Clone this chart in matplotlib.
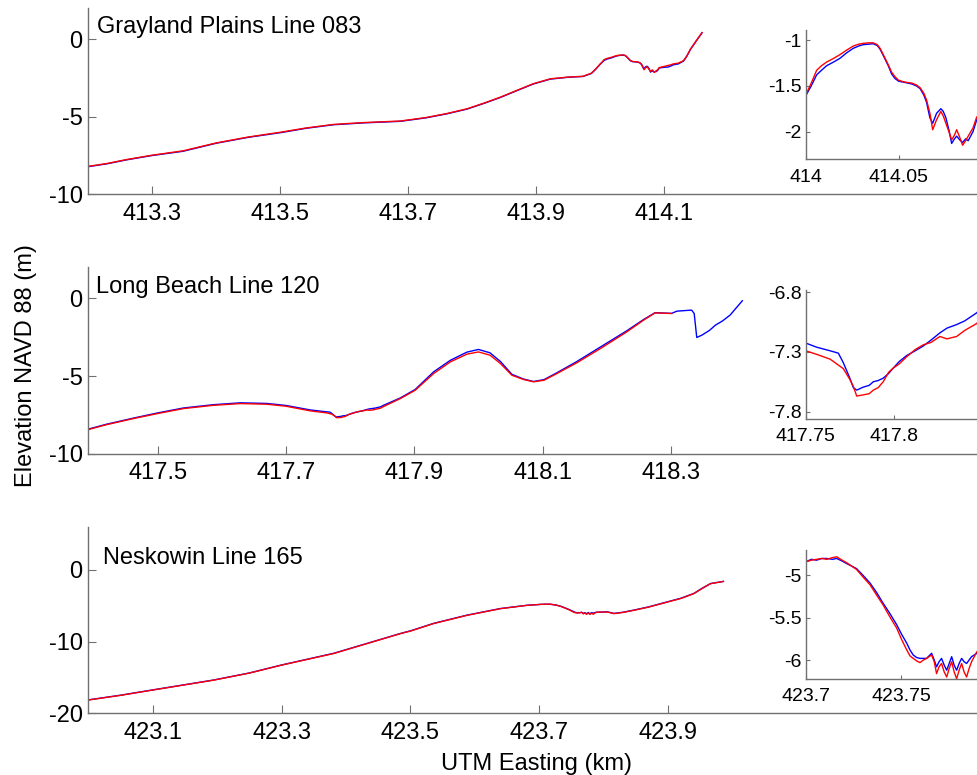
import matplotlib
matplotlib.use("Agg")
import matplotlib.pyplot as plt
from matplotlib.ticker import FuncFormatter

plt.rcParams["font.family"] = ["Liberation Sans", "DejaVu Sans"]
plt.rcParams["axes.unicode_minus"] = False

# ---------------- Grayland Plains Line 083 ----------------
gray_km = [413.200, 413.230, 413.260, 413.300, 413.348, 413.400, 413.450, 413.502,
           413.540, 413.583, 413.630, 413.6875, 413.727, 413.760, 413.792, 413.820,
           413.844, 413.870, 413.895, 413.922, 413.950, 413.973, 413.986, 413.993,
           414.0000, 414.0030, 414.0059, 414.0085, 414.0113, 414.0150, 414.0184,
           414.0220, 414.0256, 414.0285, 414.0310, 414.0340, 414.0363, 414.0385,
           414.0400, 414.0420, 414.0444, 414.0462, 414.0480, 414.0500, 414.0525,
           414.0550, 414.0570, 414.0595, 414.0615, 414.0635, 414.0650, 414.0668,
           414.0683, 414.0704, 414.0727, 414.0740, 414.0754, 414.0770, 414.0785,
           414.0800, 414.0812, 414.0828, 414.0844, 414.0860, 414.0874, 414.0900,
           414.0920, 414.0940, 414.1000, 414.1060, 414.1100, 414.1140, 414.1220,
           414.1300, 414.1350, 414.1410, 414.1500, 414.1590]
gray_red = [-8.20, -8.01, -7.76, -7.48, -7.20, -6.69, -6.31, -5.99,
            -5.73, -5.50, -5.38, -5.28, -5.06, -4.80, -4.49, -4.10,
            -3.74, -3.30, -2.88, -2.56, -2.45, -2.40, -2.20, -1.92,
            -1.60, -1.47, -1.33, -1.28, -1.24, -1.20, -1.16,
            -1.11, -1.065, -1.045, -1.036, -1.03, -1.03, -1.05,
            -1.09, -1.17, -1.27, -1.35, -1.40, -1.44, -1.455,
            -1.465, -1.47, -1.49, -1.52, -1.58, -1.655, -1.80,
            -1.98, -1.87, -1.78, -1.83, -1.91, -2.00, -2.09,
            -2.04, -1.98, -2.06, -2.15, -2.10, -2.05, -1.96,
            -1.84, -1.82, -1.76, -1.70, -1.66, -1.60, -1.55,
            -1.39, -1.10, -0.64, -0.10, 0.42]
gray_blue = [-8.22, -8.03, -7.78, -7.50, -7.23, -6.71, -6.33, -6.02,
             -5.75, -5.52, -5.40, -5.30, -5.08, -4.82, -4.51, -4.12,
             -3.76, -3.32, -2.90, -2.58, -2.46, -2.41, -2.22, -1.94,
             -1.61, -1.50, -1.38, -1.33, -1.28, -1.24, -1.20,
             -1.14, -1.09, -1.065, -1.05, -1.045, -1.04, -1.06,
             -1.10, -1.18, -1.28, -1.37, -1.42, -1.45, -1.46,
             -1.47, -1.48, -1.50, -1.53, -1.60, -1.68, -1.85,
             -1.91, -1.80, -1.75, -1.78, -1.85, -1.98, -2.13,
             -2.08, -2.05, -2.09, -2.12, -2.08, -2.10, -2.00,
             -1.87, -1.85, -1.82, -1.80, -1.74, -1.66, -1.60,
             -1.42, -1.12, -0.66, -0.12, 0.40]

# ---------------- Long Beach Line 120 ----------------
long_km = [417.392, 417.420, 417.4626, 417.500, 417.5405, 417.587, 417.629, 417.670,
           417.700, 417.738, 417.7500, 417.7562, 417.7638, 417.7685, 417.7713,
           417.7750, 417.7770, 417.7789, 417.7826, 417.7860, 417.7883, 417.7910,
           417.7939, 417.7970, 417.7996, 417.8030, 417.8072, 417.8120, 417.8166,
           417.8210, 417.8260, 417.8300, 417.8355, 417.8400, 417.8470, 417.852,
           417.878, 417.9014, 417.930, 417.956, 417.982, 418.000, 418.018, 418.034,
           418.052, 418.070, 418.0857, 418.102, 418.122, 418.153, 418.190, 418.231,
           418.257, 418.275, 418.301]
long_red = [-8.43, -8.12, -7.72, -7.40, -7.08, -6.87, -6.76, -6.80,
            -6.93, -7.23, -7.29, -7.32, -7.36, -7.41, -7.44,
            -7.53, -7.59, -7.67, -7.66, -7.65, -7.62, -7.60,
            -7.55, -7.47, -7.435, -7.40, -7.34, -7.28, -7.24,
            -7.22, -7.17, -7.19, -7.17, -7.12, -7.06, -6.95,
            -6.44, -5.90, -4.83, -4.08, -3.58, -3.44, -3.65, -4.18,
            -4.94, -5.21, -5.36, -5.26, -4.83, -4.14, -3.22, -2.15,
            -1.40, -0.93, -0.97]
long_blue_km = long_km + [418.309, 418.332, 418.336, 418.340, 418.348, 418.360,
                          418.369, 418.380, 418.392, 418.411]
long_blue = [-8.40, -8.09, -7.69, -7.36, -7.04, -6.83, -6.71, -6.75,
             -6.88, -7.17, -7.225, -7.26, -7.29, -7.31, -7.39,
             -7.52, -7.60, -7.62, -7.595, -7.58, -7.55, -7.54,
             -7.52, -7.48, -7.435, -7.38, -7.33, -7.29, -7.25,
             -7.20, -7.14, -7.10, -7.07, -7.04, -6.97, -6.87,
             -6.40, -5.85, -4.72, -3.98, -3.45, -3.28, -3.50, -4.05,
             -4.88, -5.18, -5.34, -5.22, -4.78, -4.06, -3.12, -2.08,
             -1.36, -0.92, -0.96,
             -0.82, -0.75, -0.97, -2.51, -2.36, -2.05, -1.72, -1.45, -1.07, -0.15]

# ---------------- Neskowin Line 165 ----------------
nesk_km = [423.000, 423.050, 423.100, 423.1947, 423.250, 423.300, 423.381, 423.4846,
           423.5017, 423.536, 423.588, 423.640, 423.681,
           423.7000, 423.7030, 423.7057, 423.7085, 423.7110, 423.7140, 423.7162,
           423.7190, 423.7214, 423.7240, 423.7266, 423.7300, 423.7336, 423.7370,
           423.7405, 423.7440, 423.7475, 423.7500, 423.7528, 423.7545, 423.7562,
           423.7580, 423.7597, 423.7615, 423.7632, 423.7658, 423.7672, 423.7684,
           423.7697, 423.7710, 423.7724, 423.7737, 423.7750, 423.7763, 423.7776,
           423.7789, 423.7802, 423.7815, 423.7828, 423.7841, 423.7854, 423.7867,
           423.7895, 423.806, 423.816, 423.830, 423.847, 423.870, 423.899, 423.920,
           423.940, 423.955, 423.966, 423.986]
nesk_red = [-18.15, -17.50, -16.76, -15.38, -14.40, -13.29, -11.67, -8.90,
            -8.50, -7.50, -6.35, -5.42, -4.96,
            -4.84, -4.82, -4.81, -4.80, -4.81, -4.79, -4.78,
            -4.82, -4.85, -4.89, -4.93, -5.02, -5.11, -5.23,
            -5.35, -5.49, -5.62, -5.75, -5.88, -5.95, -5.98,
            -6.01, -6.03, -6.00, -5.98, -5.94, -6.02, -6.16,
            -6.08, -6.04, -6.14, -6.20, -6.10, -6.02, -6.14,
            -6.22, -6.12, -6.04, -6.14, -6.20, -6.10, -6.02,
            -5.90, -5.89, -6.11, -5.95, -5.65, -5.20, -4.50, -4.00,
            -3.33, -2.50, -1.94, -1.63]
nesk_blue = [-18.13, -17.48, -16.74, -15.36, -14.38, -13.27, -11.64, -8.88,
             -8.47, -7.47, -6.32, -5.40, -4.95,
             -4.84, -4.81, -4.82, -4.80, -4.80, -4.81, -4.80,
             -4.83, -4.86, -4.89, -4.92, -5.00, -5.09, -5.20,
             -5.33, -5.45, -5.58, -5.69, -5.80, -5.88, -5.94,
             -5.97, -5.98, -5.98, -5.98, -5.92, -6.00, -6.08,
             -6.02, -5.98, -6.06, -6.12, -6.04, -5.96, -6.06,
             -6.12, -6.04, -5.98, -6.02, -6.04, -6.00, -5.96,
             -5.92, -5.86, -6.08, -5.92, -5.62, -5.17, -4.47, -3.97,
             -3.30, -2.47, -1.92, -1.62]

site_names = ["Grayland Plains Line 083", "Long Beach Line 120", "Neskowin Line 165"]
main_xlims = [(413.2, 414.6), (417.392, 418.788), (423.0, 424.391)]
main_ylims = [(-10, 2), (-10, 2), (-20, 6)]
main_xticks = [[413.3, 413.5, 413.7, 413.9, 414.1],
               [417.5, 417.7, 417.9, 418.1, 418.3],
               [423.1, 423.3, 423.5, 423.7, 423.9]]
main_yticks = [[-10, -5, 0], [-10, -5, 0], [-20, -10, 0]]
inset_xlims = [(414.0, 414.0959), (417.75, 417.851), (423.7, 423.7932)]
inset_ylims = [(-2.3, -0.89), (-7.86, -6.78), (-6.22, -4.70)]
inset_xticks = [[414.0, 414.05], [417.75, 417.8], [423.7, 423.75]]
inset_yticks = [[-2, -1.5, -1], [-7.8, -7.3, -6.8], [-6, -5.5, -5]]

blue_series = [(gray_km, gray_blue), (long_blue_km, long_blue), (nesk_km, nesk_blue)]
red_series = [(gray_km, gray_red), (long_km, long_red), (nesk_km, nesk_red)]

W, H = 977, 775
fig = plt.figure(figsize=(W / 100, H / 100), dpi=100)

spine_col = "#707070"
fmt = FuncFormatter(lambda v, p: "%g" % round(v, 4))

# pixel boxes (top, bottom) for main panels and insets
main_boxes = [(8.0, 194.3), (267.3, 454.0), (526.7, 713.3)]
inset_boxes = [(30.0, 159.0), (290.0, 418.7), (550.0, 678.7)]
title_pos = [(0.0094, 0.866), (0.0085, 0.862), (0.0164, 0.80)]
main_left, main_right = 88.3, 984.3
inset_left, inset_right = 805.7, 984.0


def style(ax, length, labelsize, xpad, ypad):
    for s in ["top", "right"]:
        ax.spines[s].set_visible(False)
    for s in ["left", "bottom"]:
        ax.spines[s].set_color(spine_col)
        ax.spines[s].set_linewidth(1.0)
    ax.tick_params(direction="in", length=length, width=0.8, color=spine_col,
                   labelsize=labelsize, labelcolor="black")
    ax.tick_params(axis="x", pad=xpad)
    ax.tick_params(axis="y", pad=ypad)
    ax.xaxis.set_major_formatter(fmt)
    ax.yaxis.set_major_formatter(fmt)


for i in range(3):
    top, bot = main_boxes[i]
    ax = fig.add_axes([main_left / W, (H - bot) / H,
                       (main_right - main_left) / W, (bot - top) / H])
    bx, by = blue_series[i]
    rx, ry = red_series[i]
    ax.plot(bx, by, color="#0000ff", lw=1.0)
    ax.plot(rx, ry, color="#ff0000", lw=1.0)
    ax.set_xlim(*main_xlims[i])
    ax.set_ylim(*main_ylims[i])
    ax.set_xticks(main_xticks[i])
    ax.set_yticks(main_yticks[i])
    style(ax, 6, 17, 6, 4)
    tx, ty = title_pos[i]
    ax.text(tx, ty, site_names[i], transform=ax.transAxes, fontsize=17,
            ha="left", va="baseline")

    itop, ibot = inset_boxes[i]
    ia = fig.add_axes([inset_left / W, (H - ibot) / H,
                       (inset_right - inset_left) / W, (ibot - itop) / H])
    ia.set_facecolor("white")
    ia.plot(bx, by, color="#0000ff", lw=1.0)
    ia.plot(rx, ry, color="#ff0000", lw=1.0)
    ia.set_xlim(*inset_xlims[i])
    ia.set_ylim(*inset_ylims[i])
    ia.set_xticks(inset_xticks[i])
    ia.set_yticks(inset_yticks[i])
    style(ia, 3, 14, 7, 3)

fig.text(26 / W, (H - 366) / H, "Elevation NAVD 88 (m)", rotation=90,
         fontsize=17, ha="center", va="center")
fig.text((main_left + main_right) / 2 / W, 5 / H, "UTM Easting (km)",
         fontsize=17, ha="center", va="baseline")

fig.savefig("out.png", dpi=100)
